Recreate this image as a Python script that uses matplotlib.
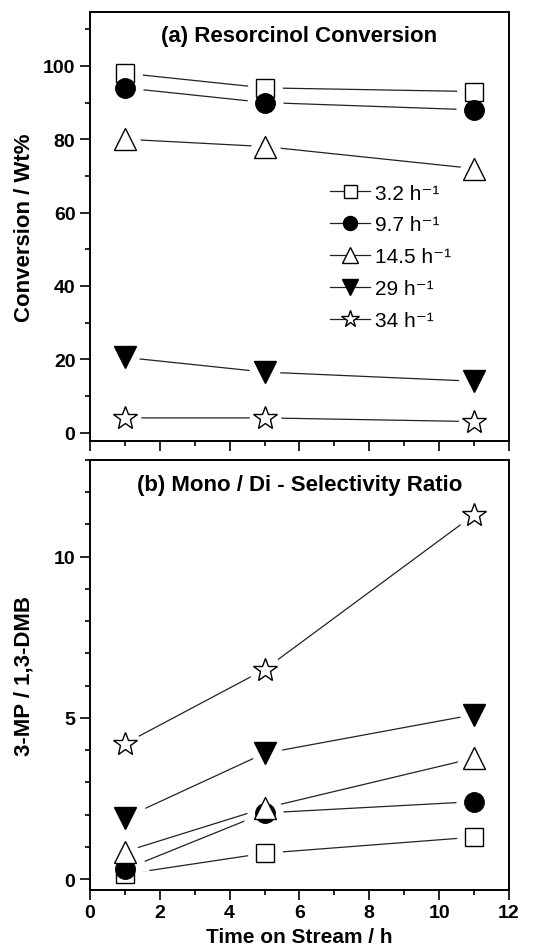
import matplotlib
matplotlib.use('Agg')
import matplotlib.pyplot as plt
from matplotlib.lines import Line2D
from matplotlib.ticker import MultipleLocator

plt.rcParams['font.family'] = ['Liberation Sans', 'DejaVu Sans']

time_h = [1, 5, 11]
labels = ['3.2 h⁻¹', '9.7 h⁻¹', '14.5 h⁻¹', '29 h⁻¹', '34 h⁻¹']

# (a) resorcinol conversion, wt%
conv_32 = [98, 94, 93]
conv_97 = [94, 90, 88]
conv_145 = [80, 78, 72]
conv_29 = [20.5, 16.5, 14]
conv_34 = [4, 4, 3]

# (b) 3-MP / 1,3-DMB ratio
ratio_32 = [0.15, 0.8, 1.3]
ratio_97 = [0.3, 2.05, 2.4]
ratio_145 = [0.85, 2.2, 3.75]
ratio_29 = [1.9, 3.9, 5.1]
ratio_34 = [4.2, 6.5, 11.3]

styles = [('s', 'white', 13), ('o', 'black', 14), ('^', 'white', 16),
          ('v', 'black', 16), ('*', 'white', 18)]


def draw(ax, series):
    for y in series:
        ax.plot(time_h, y, color='#222222', lw=0.9, zorder=1)
    # white halo so the lines stop short of the symbols
    for y, (m, fc, ms) in zip(series, styles):
        ax.plot(time_h, y, ls='none', marker=m, ms=ms, mfc='white',
                mec='white', mew=12, zorder=2)
    for y, (m, fc, ms) in zip(series, styles):
        ax.plot(time_h, y, ls='none', marker=m, ms=ms, mfc=fc,
                mec='black', mew=1, zorder=3)


def style_axis(ax):
    ax.set_xlim(0, 12)
    ax.xaxis.set_major_locator(MultipleLocator(2))
    ax.xaxis.set_minor_locator(MultipleLocator(1))
    ax.tick_params(which='major', direction='out', length=7, width=1.2,
                   labelsize=14)
    ax.tick_params(which='minor', direction='out', length=3.5, width=1.2)
    for s in ax.spines.values():
        s.set_linewidth(1.4)
    for t in ax.get_xticklabels() + ax.get_yticklabels():
        t.set_fontweight('bold')


fig = plt.figure(figsize=(5.52, 9.53), dpi=100)
ax1 = fig.add_axes([0.163, 0.5362, 0.759, 0.4502])
ax2 = fig.add_axes([0.163, 0.0654, 0.759, 0.4509])

draw(ax1, [conv_32, conv_97, conv_145, conv_29, conv_34])
ax1.set_ylim(-2.3, 114.7)
ax1.yaxis.set_major_locator(MultipleLocator(20))
ax1.yaxis.set_minor_locator(MultipleLocator(10))
style_axis(ax1)
ax1.tick_params(axis='x', which='both', labelbottom=False)
ax1.set_ylabel('Conversion / Wt%', fontsize=16, fontweight='bold')
ax1.yaxis.set_label_coords(-0.132, 0.5)
ax1.text(0.5, 0.97, '(a) Resorcinol Conversion', transform=ax1.transAxes,
         ha='center', va='top', fontsize=16, fontweight='bold')

handles = [Line2D([], [], color='#222222', lw=0.9, marker=m, ms=ms * 0.72,
                  mfc=fc, mec='black', mew=1) for m, fc, ms in styles]
ax1.legend(handles, labels, loc='upper left', bbox_to_anchor=(0.573, 0.6),
           frameon=False, fontsize=15, handlelength=1.9, handletextpad=0.25,
           labelspacing=0.62, borderaxespad=0, borderpad=0)

draw(ax2, [ratio_32, ratio_97, ratio_145, ratio_29, ratio_34])
ax2.set_ylim(-0.33, 13.0)
ax2.yaxis.set_major_locator(MultipleLocator(5))
ax2.yaxis.set_minor_locator(MultipleLocator(1))
style_axis(ax2)
ax2.set_ylabel('3-MP / 1,3-DMB', fontsize=16, fontweight='bold')
ax2.yaxis.set_label_coords(-0.132, 0.5)
ax2.set_xlabel('Time on Stream / h', fontsize=15, fontweight='bold')
ax2.text(0.5, 0.967, '(b) Mono / Di - Selectivity Ratio', transform=ax2.transAxes,
         ha='center', va='top', fontsize=16, fontweight='bold')

fig.savefig('out.png', dpi=100)
